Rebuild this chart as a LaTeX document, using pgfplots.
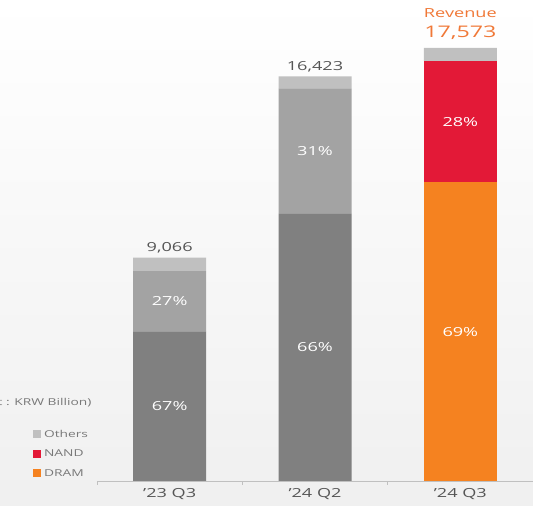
\documentclass[border=0pt]{standalone}
\usepackage{fontspec}
\setmainfont{Open Sans}[FakeStretch=1.45]
\usepackage{pgfplots}
\pgfplotsset{compat=1.18}
\definecolor{dgray}{RGB}{128,128,128}
\definecolor{mgray}{RGB}{163,163,163}
\definecolor{lgray}{RGB}{192,192,192}
\definecolor{skorange}{RGB}{245,130,32}
\definecolor{skred}{RGB}{227,25,55}
\definecolor{txtgray}{RGB}{85,85,85}
\definecolor{leggray}{RGB}{120,120,120}
\definecolor{revorange}{RGB}{240,120,55}
\tikzset{pct/.style={text=white, font=\fontsize{12.5}{13}\selectfont},
  tot/.style={text=txtgray, font=\fontsize{12.5}{13}\selectfont}}
\begin{document}
\begin{tikzpicture}
\useasboundingbox (0,0) rectangle (533pt,506pt);
\clip (0,0) rectangle (533pt,506pt);
\shade[top color=white, bottom color=black!6] (0,0) rectangle (533pt,506pt);
\begin{axis}[
  at={(97pt,25pt)}, anchor=south west,
  scale only axis, width=436pt, height=481pt,
  xmin=-0.5, xmax=2.5, ymin=0, ymax=19521,
  hide y axis,
  axis x line*=bottom,
  x axis line style={color=lgray, line width=0.8pt},
  ybar stacked, bar width=73pt,
  xtick={0,1,2},
  xticklabels={{’23 Q3},{’24 Q2},{’24 Q3}},
  major tick length=0pt,
  minor xtick={-0.5,0.5,1.5},
  minor tick length=4pt,
  tick align=outside,
  minor tick style={color=lgray, line width=0.8pt},
  xticklabel style={font=\fontsize{12.5}{13}\selectfont, text=txtgray, yshift=-4pt},
  clip=false,
]
\addplot[fill=dgray, draw=none] coordinates {(0,6074) (1,10839) (2,0)};
\addplot[fill=skorange, draw=none] coordinates {(0,0) (1,0) (2,12125)};
\addplot[fill=mgray, draw=none] coordinates {(0,2448) (1,5091) (2,0)};
\addplot[fill=skred, draw=none] coordinates {(0,0) (1,0) (2,4920)};
\addplot[fill=lgray, draw=none] coordinates {(0,544) (1,493) (2,528)};
\end{axis}
\begin{axis}[
  at={(97pt,25pt)}, anchor=south west,
  scale only axis, width=436pt, height=481pt,
  xmin=-0.5, xmax=2.5, ymin=0, ymax=19521,
  hide axis, clip=false,
  legend cell align=left,
  legend style={draw=none, fill=none, at={(-0.155,0.112)}, anchor=north west,
    font=\fontsize{9.5}{10}\selectfont, text=leggray, row sep=9pt, column sep=3pt,
    nodes={inner sep=1pt}},
]
\addlegendimage{legend image code/.code={\fill[lgray] (0pt,-3pt) rectangle (7pt,4pt);}}
\addlegendentry{Others}
\addlegendimage{legend image code/.code={\fill[skred] (0pt,-3pt) rectangle (7pt,4pt);}}
\addlegendentry{NAND}
\addlegendimage{legend image code/.code={\fill[skorange] (0pt,-3pt) rectangle (7pt,4pt);}}
\addlegendentry{DRAM}
\node[pct] at (axis cs:0,3037) {67\%};
\node[pct] at (axis cs:0,7298) {27\%};
\node[pct] at (axis cs:1,5420) {66\%};
\node[pct] at (axis cs:1,13384) {31\%};
\node[pct] at (axis cs:2,6062) {69\%};
\node[pct] at (axis cs:2,14585) {28\%};
\node[tot] at (axis cs:0,9450) {9,066};
\node[tot] at (axis cs:1,16830) {16,423};
\node[text=revorange, font=\fontsize{16}{17}\selectfont] at (axis cs:2,18200) {17,573};
\node[text=revorange, font=\fontsize{12.5}{13}\selectfont] at (axis cs:2,18980) {Revenue};
\end{axis}
\node[anchor=east, text=leggray, font=\fontsize{9.5}{10}\selectfont] at (95pt,103pt) {(Unit : KRW Billion)};
\end{tikzpicture}
\end{document}
